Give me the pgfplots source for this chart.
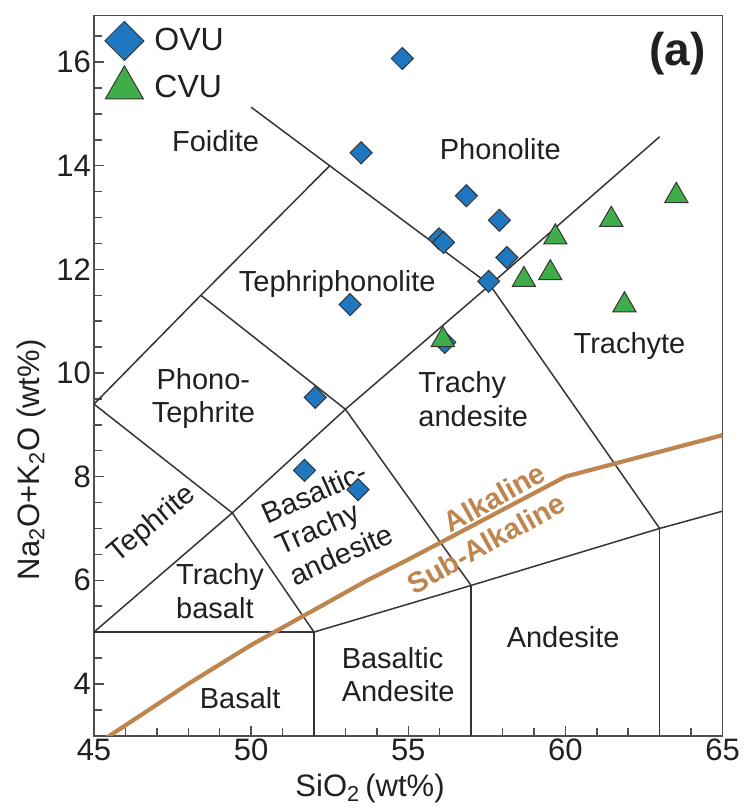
\documentclass[border=0pt]{standalone}
\usepackage{fontspec}
\setmainfont{Liberation Sans}
\usepackage{pgfplots}
\usepackage{pgfplotstable}
\pgfplotsset{compat=1.18}

\definecolor{ovublue}{RGB}{31,119,192}
\definecolor{cvugreen}{RGB}{63,173,74}
\definecolor{alkbrown}{RGB}{191,133,79}
\definecolor{fieldline}{RGB}{55,52,53}
\definecolor{inkgray}{RGB}{35,31,32}
\definecolor{framegray}{RGB}{80,78,79}

\pgfplotsset{
  % legend symbols drawn larger than the plotted ones
  bigmark legend/.style={legend image code/.code={%
    \path[draw=none, fill=none] (-10pt,-10pt) rectangle (10pt,10pt);
    \draw[##1, mark size=#1] plot coordinates {(0pt,0pt)};}},
  field/.style={fieldline, line width=0.75pt, mark=none, forget plot},
}

% SiO2 and total alkalis (wt%)
\pgfplotstableread{
sio2  alk
54.81 16.07
53.50 14.25
56.85 13.42
57.90 12.95
55.98 12.59
56.12 12.52
58.14 12.23
57.56 11.77
53.15 11.32
52.04 9.53
51.70 8.12
53.40 7.75
56.16 10.59
}\ovu

\pgfplotstableread{
sio2  alk
63.53 13.42
61.46 12.96
59.68 12.62
59.52 11.93
58.68 11.80
61.88 11.31
56.10 10.64
}\cvu

\newcommand{\fieldfont}{\fontsize{14.5}{16.8}\selectfont}

\begin{document}
\begin{tikzpicture}
\begin{axis}[
  name=tas,
  scale only axis, width=314.25pt, height=360.1pt,
  xmin=45, xmax=65, ymin=3, ymax=16.9,
  xtick={45,50,...,65}, ytick={4,6,...,16},
  minor xtick={45,...,65}, minor ytick={3,3.5,...,16.5},
  tick pos=left, tick align=inside,
  major tick length=5pt, minor tick length=4pt,
  axis line style={framegray, line width=0.9pt},
  every tick/.style={framegray, line width=0.75pt},
  /pgf/number format/assume math mode=true,
  ticklabel style={font=\fontsize{15.5}{18}\selectfont, text=inkgray},
  xticklabel style={yshift=2pt},
  yticklabel style={xshift=2pt},
  xlabel={SiO\textsubscript{2}\,(wt\%)},
  ylabel={Na\textsubscript{2}O+K\textsubscript{2}O (wt\%)},
  label style={font=\fontsize{15.5}{18}\selectfont, text=inkgray},
  x label style={at={(axis description cs:0.4392,-0.0726)}, anchor=center},
  y label style={at={(axis description cs:-0.1002,0.383)}, anchor=center},
  legend style={draw=none, fill=none, at={(axis description cs:0,1)},
    anchor=north west, inner xsep=5pt, inner ysep=2.5pt,
    row sep=2.5pt, column sep=5pt, nodes={inner sep=0pt},
    font=\fontsize{16}{19}\selectfont, text=inkgray},
  legend cell align=left,
]

% field names
\node[font=\fieldfont, text=inkgray] at (axis cs:48.87,14.48) {Foidite};
\node[font=\fieldfont, text=inkgray] at (axis cs:57.93,14.32) {Phonolite};
\node[font=\fieldfont, text=inkgray] at (axis cs:52.74,11.71) {Tephriphonolite};
\node[font=\fieldfont, text=inkgray, align=center] at (axis cs:48.48,9.51) {Phono-\\Tephrite};
\node[font=\fieldfont, text=inkgray, align=left] at (axis cs:57.07,9.49) {Trachy\\andesite};
\node[font=\fieldfont, text=inkgray] at (axis cs:62.04,10.52) {Trachyte};
\node[font=\fieldfont, text=inkgray, rotate=40] at (axis cs:46.86,7.08) {Tephrite};
\node[font=\fieldfont, text=inkgray, align=left, rotate=24] at (axis cs:52.45,7.10) {Basaltic-\\Trachy\\andesite};
\node[font=\fieldfont, text=inkgray, align=left] at (axis cs:49.01,5.79) {Trachy\\basalt};
\node[font=\fieldfont, text=inkgray] at (axis cs:49.65,3.72) {Basalt};
\node[font=\fieldfont, text=inkgray, align=left] at (axis cs:54.68,4.18) {Basaltic\\Andesite};
\node[font=\fieldfont, text=inkgray] at (axis cs:59.93,4.90) {Andesite};

% samples
\addplot[only marks, mark=square*, mark size=3.9pt,
  mark options={rotate=45, fill=ovublue, draw=fieldline, line width=0.5pt},
  bigmark legend=6.9pt]
  table[x=sio2, y=alk] {\ovu};
\addlegendentry{OVU}
\addplot[only marks, mark=triangle*, mark size=6.7pt,
  mark options={fill=cvugreen, draw=fieldline, line width=0.5pt},
  bigmark legend=11pt]
  table[x=sio2, y=alk] {\cvu};
\addlegendentry{CVU}

% TAS field boundaries
\addplot[field] coordinates {(45,5) (52,5)};
\addplot[field] coordinates {(52,3) (52,5)};
\addplot[field] coordinates {(52,5) (57,5.9) (63,7) (65,7.333)};
\addplot[field] coordinates {(57,3) (57,5.9)};
\addplot[field] coordinates {(63,3) (63,7)};
\addplot[field] coordinates {(45,5) (49.4,7.3) (53,9.3) (57.6,11.7) (63,14.56)};
\addplot[field] coordinates {(49.4,7.3) (52,5)};
\addplot[field] coordinates {(53,9.3) (57,5.9)};
\addplot[field] coordinates {(57.6,11.7) (63,7)};
\addplot[field] coordinates {(45,9.4) (48.4,11.5) (52.5,14)};
\addplot[field] coordinates {(50,15.13) (52.5,14) (57.6,11.7)};
\addplot[field] coordinates {(45,9.4) (49.4,7.3)};
\addplot[field] coordinates {(48.4,11.5) (53,9.3)};

% alkaline / sub-alkaline divide
\addplot[alkbrown, line width=2.1pt, line join=round, mark=none, forget plot] coordinates
  {(45,2.8) (48,4) (50,4.75) (53.7,6) (55,6.4) (60,8) (65,8.8)};

\node[rotate=29, font=\bfseries\fontsize{14.5}{17}\selectfont, text=alkbrown] at (axis cs:57.74,7.60) {Alkaline};
\node[rotate=29, font=\bfseries\fontsize{14.5}{17}\selectfont, text=alkbrown] at (axis cs:57.47,6.71) {Sub-Alkaline};

\node[font=\bfseries\fontsize{23}{27}\selectfont, text=inkgray] at (axis cs:63.56,16.17) {(a)};
\end{axis}
\pgfresetboundingbox
\path[use as bounding box] (tas.south west) ++(-47pt,-35.65pt) rectangle ++(371.5pt,403.5pt);
\end{tikzpicture}
\end{document}
